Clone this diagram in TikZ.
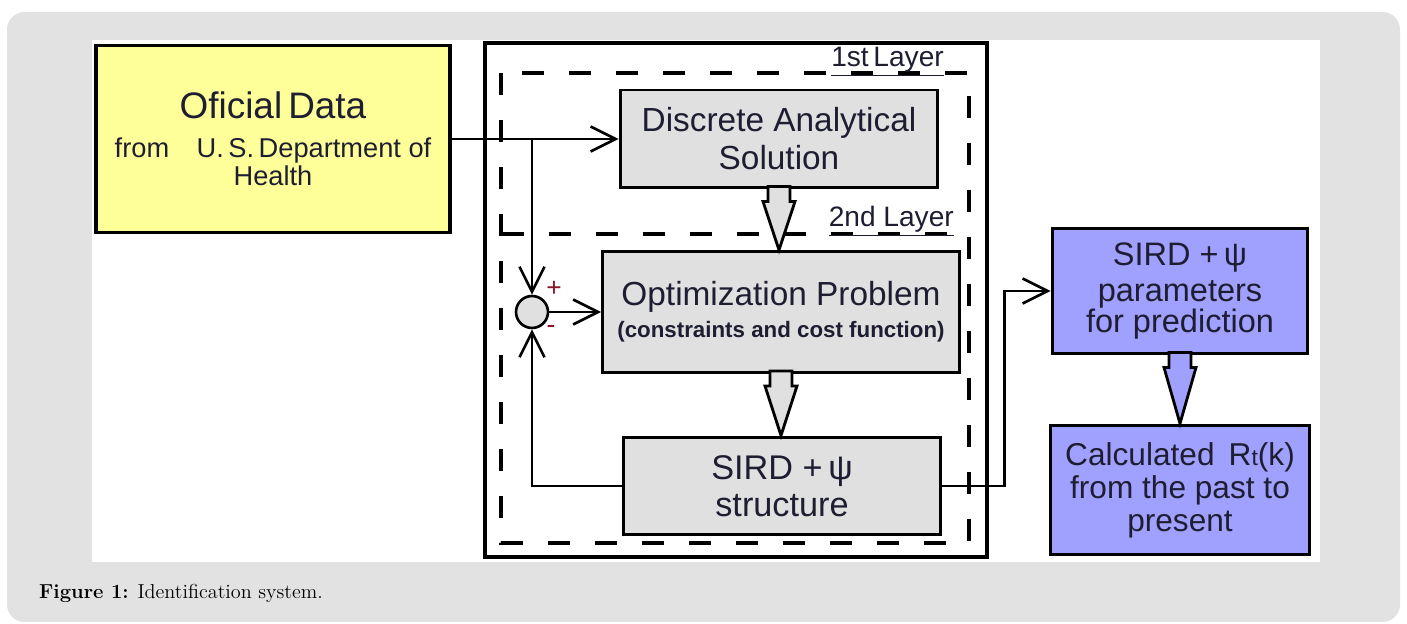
\documentclass[tikz,border=0pt]{standalone}
\usepackage{fontspec}
\newfontfamily\diagfont{Liberation Sans}
\usetikzlibrary{arrows.meta,positioning,calc}

\definecolor{panelgray}{RGB}{226,226,226}
\definecolor{datayellow}{RGB}{255,255,153}
\definecolor{boxgray}{RGB}{224,224,224}
\definecolor{paramblue}{RGB}{160,160,255}
\definecolor{inktext}{RGB}{30,30,50}
\definecolor{signred}{RGB}{140,20,40}
\newcommand{\fsz}[2]{\fontsize{#1pt}{#2pt}\selectfont}
% hollow block arrow from one anchor down to another
\newcommand{\blockarrow}[3]{%
  \draw[line width=1.6pt, fill=#3, line join=miter]
    ($(#1)+(-11,-3)$) -- ($(#1)+(11,-3)$) -- ($(#1)+(11,12)$) -- ($(#1)+(16,12)$)
    -- (#1 |- #2) -- ($(#1)+(-16,12)$) -- ($(#1)+(-11,12)$) -- cycle;}

\begin{document}
\begin{tikzpicture}[
    x=0.02cm, y=-0.02cm,
    font=\diagfont, text=inktext,
    box/.style={draw, line width=1.7pt, inner sep=0pt, align=center},
    data/.style={box, fill=datayellow, line width=2.2pt, minimum width=7.08cm, minimum height=3.74cm},
    proc/.style={box, fill=boxgray},
    param/.style={box, fill=paramblue},
    layer/.style={draw, line width=1.9pt, dash pattern=on 0.44cm off 0.5cm},
    arrow/.style={-{Straight Barb[length=0.5cm,width=0.5cm]}, line width=1.5pt},
    sign/.style={text=signred, font=\diagfont\fsz{15}{15}}
  ]

  % Background panels
  \useasboundingbox (0,0) rectangle (1407,624);
  \fill[white] (0,0) rectangle (1407,624);
  \fill[panelgray, rounded corners=0.35cm] (7,12) rectangle (1400,622);
  \fill[white] (92,40) rectangle (1320,562);

  % Frame and layers
  \draw[line width=2pt] (485,43) rectangle (987,557);
  \draw[layer] (501,73) rectangle (969,543);
  \draw[layer] (502,234) -- (969,234);
  \node[anchor=base east, font=\diagfont\fsz{16}{16}] (lab1) at (950,67) {\underline{1st\,Layer}};
  \node[anchor=base east, font=\diagfont\fsz{16}{16}] (lab2) at (960,227) {\underline{2nd Layer}};

  % Main blocks
  \node[data, font=\diagfont\fsz{15.5}{16}] (data) at (273,139)
    {{\fsz{21}{16}Oficial\,Data}\\[6pt]from\hspace{0.55cm}U.\,S.\,Department of\\Health};
  \node[proc, minimum width=6.36cm, minimum height=1.96cm, font=\diagfont\fsz{19}{21.6}] (dis) at (779,139)
    {Discrete Analytical\\Solution};
  \node[proc, minimum width=7.14cm, minimum height=2.42cm, font=\diagfont\fsz{19}{18.2}] (opt) at (781,312)
    {Optimization Problem\\{\bfseries\fsz{12.7}{18.2}(constraints and cost function)}};
  \node[proc, minimum width=6.36cm, minimum height=1.96cm, font=\diagfont\fsz{19.5}{21}] (sird) at (782,486)
    {SIRD +\,ψ\\structure};
  \node[circle, draw, fill=boxgray, line width=1.5pt, minimum size=0.64cm, inner sep=0pt] (sum) at (532,312) {};
  \node[sign] (plus) at (554,289) {+};
  \node[sign] (minus) at (551,329) {-};

  % Output blocks
  \node[param, minimum width=5.12cm, minimum height=2.52cm, font=\diagfont\fsz{18.5}{17.5}] (par) at (1180,291)
    {SIRD +\,ψ\\[3pt]parameters\\for prediction};
  \node[param, minimum width=5.2cm, minimum height=2.6cm, font=\diagfont\fsz{18}{18.8}] (rt) at (1180,490)
    {Calculated\, R{\fsz{13}{13}t}(k)\\from the past to\\present};

  % Block arrows
  \blockarrow{dis.south}{opt.north}{boxgray}
  \blockarrow{opt.south}{sird.north}{boxgray}
  \blockarrow{par.south}{rt.north}{paramblue}

  % Connections
  \coordinate (split) at (sum |- dis.west);
  \draw[arrow] (data.east) -- (dis.west);
  \draw[arrow] (split) -- (sum.north);
  \draw[arrow] (sum.east) -- (opt.west);
  \draw[arrow] (sird.west) -| (sum.south);
  \draw[arrow] (sird.east) -- ++(62,0) |- (par.west);

  % Caption
  \node[anchor=west, font=\rmfamily\fsz{11.5}{13}, text=black] (caption) at (33,593)
    {\textbf{Figure 1:} Identification system.};
\end{tikzpicture}
\end{document}
